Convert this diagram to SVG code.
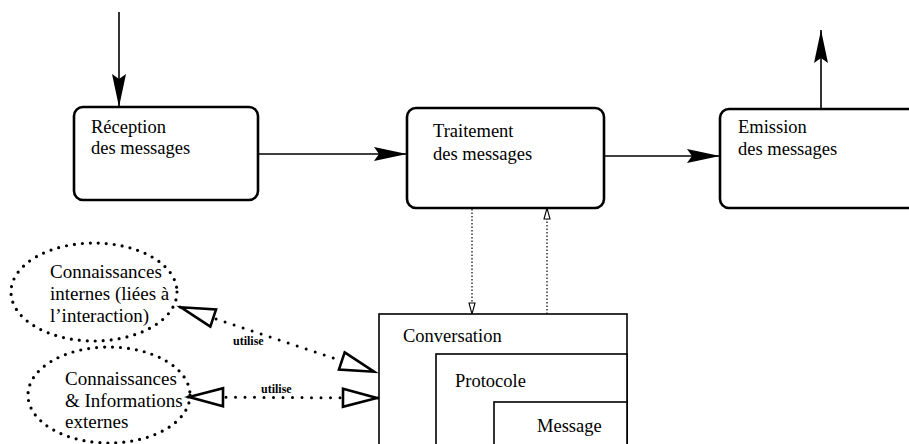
<svg xmlns="http://www.w3.org/2000/svg" width="909" height="444" viewBox="0 0 909 444">
<style>
  .box { fill: #fff; stroke: #000; stroke-width: 2.6; }
  .frame { fill: #fff; stroke: #000; stroke-width: 1.6; }
  text { font-family: 'Liberation Serif', 'DejaVu Serif', serif; fill: #000; }
  .t { font-size: 18.5px; }
  .te { font-size: 19px; }
  .lbl { font-size: 12px; font-weight: bold; }
  .flow { fill: none; stroke: #000; stroke-width: 1.6; }
  .fine { fill: none; stroke: #000; stroke-width: 1.2; stroke-dasharray: 1.5 2; }
  .uses { fill: none; stroke: #000; stroke-width: 3; stroke-dasharray: 0 9.5; stroke-linecap: round; }
  .dotell { fill: none; stroke: #000; stroke-width: 3.2; stroke-dasharray: 0 8; stroke-linecap: round; }
</style>
<defs>
  <marker id="solid" markerUnits="userSpaceOnUse" viewBox="0 0 34 16" markerWidth="34" markerHeight="16" refX="33" refY="8" orient="auto">
    <path d="M0,1 L33,8 L0,15 L5,8 z" fill="#000"/>
  </marker>
  <marker id="small" markerUnits="userSpaceOnUse" viewBox="0 0 14 10" markerWidth="14" markerHeight="10" refX="12" refY="5" orient="auto">
    <path d="M1,2 L12,5 L1,8 z" fill="#fff" stroke="#000" stroke-width="1.1"/>
  </marker>
  <marker id="open" markerUnits="userSpaceOnUse" viewBox="0 0 42 26" markerWidth="42" markerHeight="26" refX="38" refY="13" orient="auto-start-reverse">
    <path d="M3,4 L37,13 L3,22 z" fill="#fff" stroke="#000" stroke-width="2.6" stroke-linejoin="miter"/>
  </marker>
</defs>

<g id="connectors">
  <line class="flow" x1="119" y1="12" x2="119" y2="107" marker-end="url(#solid)"/>
  <line class="flow" x1="258" y1="154" x2="407" y2="154" marker-end="url(#solid)"/>
  <line class="flow" x1="604" y1="156" x2="720" y2="156" marker-end="url(#solid)"/>
  <line class="flow" x1="821" y1="109" x2="821" y2="30" marker-end="url(#solid)"/>
  <line class="fine" x1="472" y1="209" x2="472" y2="314" marker-end="url(#small)"/>
  <line class="fine" x1="547" y1="314" x2="547" y2="208" marker-end="url(#small)"/>
  <line class="uses" x1="180" y1="307" x2="375" y2="372" marker-start="url(#open)" marker-end="url(#open)"/>
  <line class="uses" x1="188" y1="397" x2="378" y2="398" marker-start="url(#open)" marker-end="url(#open)"/>
  <text class="lbl" x="233" y="345">utilise</text>
  <text class="lbl" x="261" y="393">utilise</text>
</g>

<g id="reception">
  <rect class="box" x="74" y="107" width="184" height="93" rx="9"/>
  <text class="t" x="91" y="133">Réception</text>
  <text class="t" x="91" y="154">des messages</text>
</g>

<g id="traitement">
  <rect class="box" x="407" y="108" width="197" height="100" rx="9"/>
  <text class="t" x="433" y="137">Traitement</text>
  <text class="t" x="433" y="160">des messages</text>
</g>

<g id="emission">
  <rect class="box" x="720" y="109" width="210" height="99" rx="9"/>
  <text class="t" x="738" y="133">Emission</text>
  <text class="t" x="738" y="155">des messages</text>
</g>

<g id="connaissances-internes">
  <ellipse class="dotell" cx="94" cy="292" rx="83" ry="49"/>
  <text class="te" x="50" y="278">Connaissances</text>
  <text class="te" x="50" y="300">internes (liées à</text>
  <text class="te" x="50" y="322">l’interaction)</text>
</g>

<g id="connaissances-externes">
  <ellipse class="dotell" cx="109" cy="395" rx="81" ry="48"/>
  <text class="te" x="65" y="385">Connaissances</text>
  <text class="te" x="65" y="407">&amp; Informations</text>
  <text class="te" x="65" y="428">externes</text>
</g>

<g id="conversation">
  <rect class="frame" x="379" y="314" width="248" height="150"/>
  <text class="t" x="403" y="342">Conversation</text>
</g>

<g id="protocole">
  <rect class="frame" x="436" y="354" width="191" height="110"/>
  <text class="t" x="455" y="387">Protocole</text>
</g>

<g id="message">
  <rect class="frame" x="494" y="402" width="133" height="62"/>
  <text class="t" x="537" y="432">Message</text>
</g>
</svg>
